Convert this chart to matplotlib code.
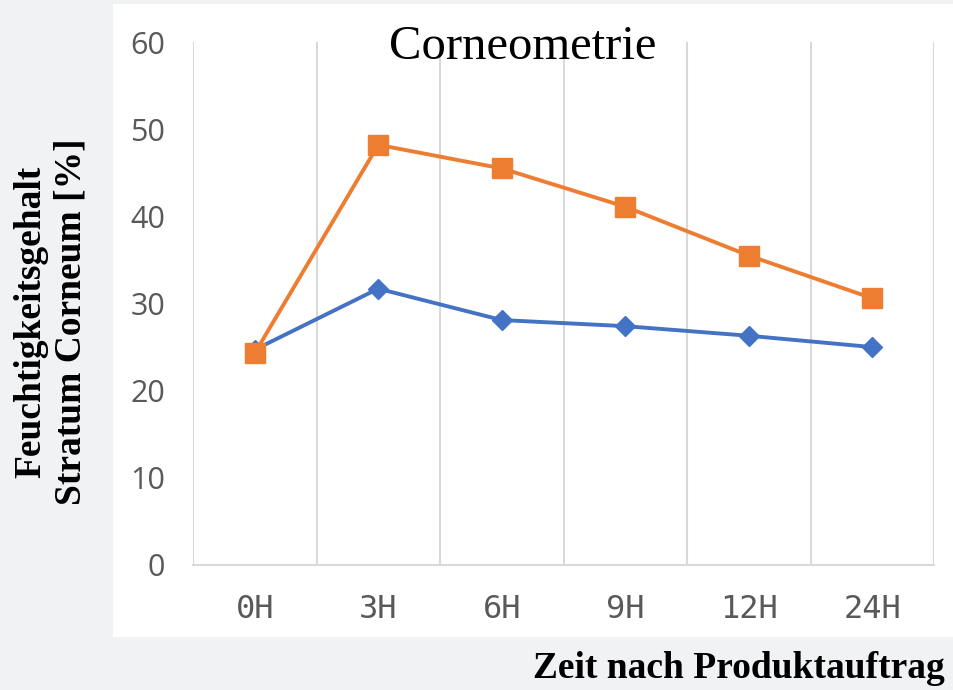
import matplotlib.pyplot as plt
from matplotlib.patches import Rectangle
from matplotlib.ticker import FixedLocator

# data
categories = ["0H", "3H", "6H", "9H", "12H", "24H"]
produkt_a = [24.7, 31.7, 28.1, 27.4, 26.3, 25.0]
produkt_b = [24.3, 48.2, 45.5, 41.1, 35.5, 30.6]
y_ticks = [0, 10, 20, 30, 40, 50, 60]

W, H = 954, 690


def main():
    fig = plt.figure(figsize=(W / 100, H / 100), dpi=100, facecolor="#f1f2f4")

    # white chart panel on the grey page
    fig.patches.append(Rectangle((113 / W, 1 - 637 / H), (W - 113) / W, (637 - 4) / H,
                                 transform=fig.transFigure, facecolor="white",
                                 edgecolor="none", zorder=-5))

    ax = fig.add_axes([193 / W, 1 - 565 / H, (934 - 193) / W, (565 - 42) / H])
    ax.set_facecolor("white")

    x = list(range(len(categories)))
    ax.plot(x, produkt_a, color="#4472C4", linewidth=2.8, marker="D",
            markersize=10, zorder=3, solid_joinstyle="round")
    ax.plot(x, produkt_b, color="#ED7D31", linewidth=2.8, marker="s",
            markersize=14, zorder=4, solid_joinstyle="round")

    ax.set_xlim(-0.5, len(categories) - 0.5)
    ax.set_ylim(0, 60)
    ax.set_yticks(y_ticks)
    ax.set_xticks(x)
    ax.set_xticklabels(categories, family="DejaVu Sans Mono", fontsize=23, color="#595959")
    ax.set_yticklabels([str(v) for v in y_ticks], family="Open Sans", fontsize=22, color="#595959")
    ax.tick_params(axis="both", length=0)
    ax.tick_params(axis="y", pad=20)
    ax.tick_params(axis="x", pad=21)

    # vertical gridlines on category boundaries
    ax.xaxis.set_minor_locator(FixedLocator([i - 0.5 for i in range(len(categories) + 1)]))
    ax.tick_params(axis="x", which="minor", length=0)
    ax.grid(True, axis="x", which="minor", color="#d9d9d9", linewidth=1.5, zorder=0)
    for side in ["top", "right", "left"]:
        ax.spines[side].set_visible(False)
    ax.spines["bottom"].set_color("#d9d9d9")
    ax.spines["bottom"].set_linewidth(1.5)

    fig.text(523 / W, 1 - 47 / H, "Corneometrie", ha="center", va="center",
             family="Liberation Serif", fontsize=35, color="black")

    fig.text(51 / W, 1 - 322 / H, "Feuchtigkeitsgehalt\nStratum Corneum [%]",
             rotation=90, ha="center", va="center", multialignment="center",
             family="Liberation Serif", fontweight="bold", fontsize=27,
             linespacing=1.2, color="black")

    fig.text(945 / W, 1 - 668 / H, "Zeit nach Produktauftrag", ha="right", va="center",
             family="Liberation Serif", fontweight="bold", fontsize=27, color="black")

    fig.savefig("out.png", dpi=100, facecolor=fig.get_facecolor())


if __name__ == "__main__":
    main()
